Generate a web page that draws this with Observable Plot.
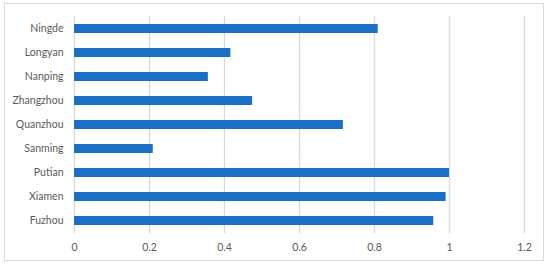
<!DOCTYPE html>
<html>
<head>
<meta charset="utf-8">
<script src="https://cdn.jsdelivr.net/npm/d3@7"></script>
<script src="https://cdn.jsdelivr.net/npm/@observablehq/plot@0.6"></script>
<style>
  html, body { margin: 0; padding: 0; background: #fff; }
  #wrap { position: relative; width: 550px; height: 267px; }
  #frame { position: absolute; left: 4px; top: 3px; width: 540px; height: 258px; border: 1px solid #d9d9d9; box-sizing: border-box; pointer-events: none; }
  svg { display: block; }
</style>
</head>
<body>
<div id="wrap"><div id="frame"></div></div>
<script>
const cities = ["Ningde", "Longyan", "Nanping", "Zhangzhou", "Quanzhou", "Sanming", "Putian", "Xiamen", "Fuzhou"];
const values = [0.81, 0.417, 0.357, 0.475, 0.717, 0.21, 1.0, 0.991, 0.958];
const xTicks = [0, 0.2, 0.4, 0.6, 0.8, 1, 1.2];
const xTickLabels = ["0", "0.2", "0.4", "0.6", "0.8", "1", "1.2"];

const data = cities.map((c, i) => ({city: c, value: values[i]}));

const chart = Plot.plot({
  width: 550,
  height: 267,
  marginLeft: 74,
  marginRight: 26,
  marginTop: 16,
  marginBottom: 34,
  style: {fontFamily: "Lato, 'Liberation Sans', sans-serif", fontSize: "10.5px", color: "#595959", background: "transparent"},
  x: {domain: [0, 1.2], ticks: xTicks, label: null},
  y: {domain: cities, paddingInner: 0.62, paddingOuter: 0.31, label: null},
  marks: [
    Plot.gridX(xTicks, {stroke: "#d9d9d9", strokeOpacity: 1, strokeWidth: 1.3}),
    Plot.barX(data, {x: "value", y: "city", fill: "#1b70c6"}),
    Plot.axisX({ticks: xTicks, tickSize: 0, tickPadding: 10, tickFormat: (d) => xTickLabels[xTicks.indexOf(d)], fill: "#595959", label: null}),
    Plot.axisY({tickSize: 0, tickPadding: 11, fill: "#595959", label: null})
  ]
});
document.getElementById("wrap").prepend(chart);
</script>
</body>
</html>
